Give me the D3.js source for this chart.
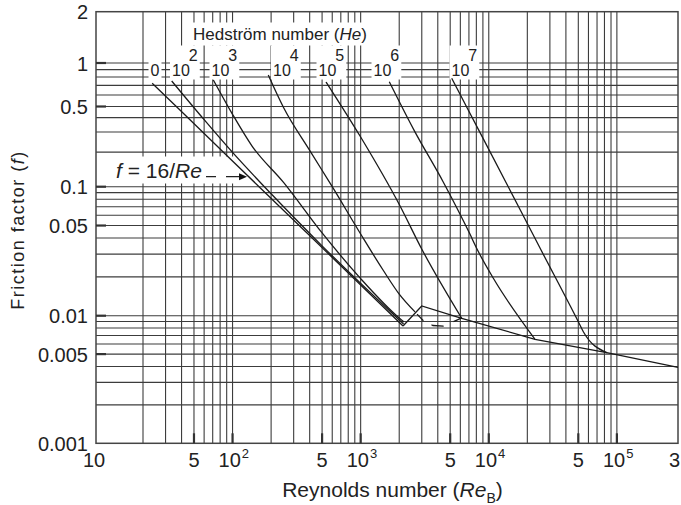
<!DOCTYPE html>
<html>
<head>
<meta charset="utf-8">
<script src="https://cdn.jsdelivr.net/npm/d3@7"></script>
<style>
body { margin: 0; background: #fff; }
svg { display: block; font-family: "Liberation Sans", Arial, Helvetica, sans-serif; }
</style>
</head>
<body>
<script>
// curves: Reynolds number / friction factor
const he0Re = [23.6, 36.4, 161, 1770, 2142];
const he0F = [0.724, 0.5, 0.1, 0.01, 0.0083];
const he2Re = [33.5, 60, 100, 200, 500, 2162];
const he2F = [0.751, 0.384, 0.199, 0.0881, 0.0348, 0.00861];
const he3Re = [70.8, 100, 142, 250, 500, 1000, 2000, 2181];
const he3F = [0.763, 0.427, 0.226, 0.109, 0.0438, 0.0194, 0.0096, 0.00893];
const he4Re = [190, 250, 400, 600, 1000, 1500, 2000, 2656];
const he4F = [0.826, 0.49, 0.207, 0.1, 0.043, 0.0225, 0.0147, 0.0107];
const he4TailRe = [2656, 3084, 3670, 4419, 5287, 6151];
const he4TailF = [0.0107, 0.00914, 0.00838, 0.0083, 0.00897, 0.0096];
const he5Re = [537, 1000, 1993, 2996, 6151];
const he5F = [0.739, 0.271, 0.0734, 0.0329, 0.00954];
const he6Re = [1673, 2647, 4411, 7065, 8170, 10857, 22970];
const he6F = [0.742, 0.302, 0.11, 0.0437, 0.0323, 0.0195, 0.00653];
const he7Re = [5138, 6692, 14190, 25590, 50010, 54730, 83350];
const he7F = [0.784, 0.5, 0.1, 0.0323, 0.00897, 0.00749, 0.00513];
const turbRe = [2142, 2996, 6151, 22970, 83350, 300000];
const turbF = [0.0083, 0.0119, 0.00954, 0.00653, 0.00513, 0.00394];

// labels
const heBase = ['0', '10', '10', '10', '10', '10', '10'];
const heSup = ['', '2', '3', '4', '5', '6', '7'];
const heLabelX = [150.5, 172, 211.5, 273, 318.5, 373.5, 451.5];

const xLabelVals = [10, 50, 100, 500, 1e3, 5e3, 1e4, 5e4, 1e5, 3e5];
const xLabelBase = ['10', '5', '10', '5', '10', '5', '10', '5', '10', '3'];
const xLabelSup = ['', '', '2', '', '3', '', '4', '', '5', ''];
const xMajor = [50, 100, 500, 1e3, 5e3, 1e4, 5e4, 1e5];

const yLabelVals = [2, 1, 0.5, 0.1, 0.05, 0.01, 0.005, 0.001];
const yLabelText = ['2', '1', '0.5', '0.1', '0.05', '0.01', '0.005', '0.001'];
const yMajor = [1, 0.5, 0.1, 0.05, 0.01, 0.005];

const arrowRe = 129.7, arrowF = 0.1222;

const W = 681, H = 505;
const svg = d3.select('body').append('svg').attr('width', W).attr('height', H);

// the scanned grid is a little uneven, so the scales are piecewise
const x = d3.scaleLog().domain([10, 20, 3e5]).range([96, 143, 678]);
const y = d3.scaleLog()
  .domain([0.001, 0.01, 0.1, 0.5, 1, 2])
  .range([443.3, 315.7, 186.7, 106.5, 63, 11.7]);

const x0 = x(10), x1 = x(3e5), y0 = y(0.001), y1 = y(2);

const gGrid = svg.append('g').attr('stroke', '#3c3c3c').attr('stroke-width', 1.1);
const gBox = svg.append('g').attr('fill', '#fff');
const gFrame = svg.append('g');
const gCurve = svg.append('g').attr('fill', 'none').attr('stroke', '#1a1a1a').attr('stroke-width', 1.3);
const gLab = svg.append('g').attr('fill', '#222');

// grid
const xGrid = x.ticks().filter(d => d > 10.5 && d < 1.01e5);
const yGrid = y.ticks().filter(d => d > 0.00101 && d < 1.01);

gGrid.selectAll('line.v').data(xGrid).join('line')
  .attr('class', 'v')
  .attr('x1', d => x(d)).attr('x2', d => x(d))
  .attr('y1', y1).attr('y2', y0);

gGrid.selectAll('line.h').data(yGrid).join('line')
  .attr('class', 'h')
  .attr('x1', x0).attr('x2', x1)
  .attr('y1', d => y(d)).attr('y2', d => y(d));

// frame and heavier ticks
gFrame.append('rect')
  .attr('x', x0).attr('y', y1)
  .attr('width', x1 - x0).attr('height', y0 - y1)
  .attr('fill', 'none').attr('stroke', '#444').attr('stroke-width', 1.5);

gFrame.selectAll('line.yt').data(yMajor).join('line')
  .attr('x1', x0).attr('x2', x0 + 10)
  .attr('y1', d => y(d)).attr('y2', d => y(d))
  .attr('stroke', '#333').attr('stroke-width', 2.2);

gFrame.selectAll('line.xt').data(xMajor).join('line')
  .attr('x1', d => x(d)).attr('x2', d => x(d))
  .attr('y1', y0).attr('y2', y0 - 10)
  .attr('stroke', '#333').attr('stroke-width', 2.2);

// curves
const smooth = d3.line().x(d => x(d[0])).y(d => y(d[1])).curve(d3.curveMonotoneX);
const straight = d3.line().x(d => x(d[0])).y(d => y(d[1]));
const heSeries = [
  [he0Re, he0F], [he2Re, he2F], [he3Re, he3F], [he4Re, he4F],
  [he5Re, he5F], [he6Re, he6F], [he7Re, he7F]
];
heSeries.forEach(([re, f]) => {
  gCurve.append('path').attr('d', smooth(d3.zip(re, f)));
});
gCurve.append('path').attr('d', straight(d3.zip(turbRe, turbF)));
gCurve.append('path')
  .attr('d', straight(d3.zip(he4TailRe, he4TailF)))
  .attr('stroke-dasharray', '0 3 9.2 9 12.3 10.9 10');

// helper: white patch behind a text
function boxBehind(sel, px, py) {
  const b = sel.node().getBBox();
  gBox.append('rect')
    .attr('x', b.x - px).attr('y', b.y - py)
    .attr('width', b.width + 2 * px).attr('height', b.height + 2 * py);
}

// y tick labels
gLab.selectAll('text.yl').data(yLabelVals).join('text')
  .attr('x', x0 - 8).attr('y', d => y(d) + 7.5)
  .attr('text-anchor', 'end').attr('font-size', 20)
  .text((d, i) => yLabelText[i]);

// x tick labels
xLabelVals.forEach((v, i) => {
  const t = gLab.append('text').attr('y', 467).attr('font-size', 20);
  if (xLabelSup[i]) {
    t.attr('x', x(v) - 14).attr('text-anchor', 'start');
    t.append('tspan').text(xLabelBase[i]);
    t.append('tspan').attr('font-size', 13).attr('dy', -9).attr('dx', 1).text(xLabelSup[i]);
  } else if (v === 3e5) {
    t.attr('x', W - 1).attr('text-anchor', 'end').text(xLabelBase[i]);
  } else {
    t.attr('x', v === 10 ? x(v) - 2 : x(v)).attr('text-anchor', 'middle').text(xLabelBase[i]);
  }
});

// axis titles
const xt = gLab.append('text')
  .attr('x', 392.5).attr('y', 497).attr('text-anchor', 'middle').attr('font-size', 21);
xt.append('tspan').text('Reynolds number (');
xt.append('tspan').attr('font-style', 'italic').text('Re');
xt.append('tspan').attr('font-size', 14).attr('dy', 6).text('B');
xt.append('tspan').attr('dy', -6).text(')');

const yt = gLab.append('text')
  .attr('transform', 'translate(23.5,230) rotate(-90)')
  .attr('text-anchor', 'middle').attr('font-size', 18).attr('letter-spacing', 1.5);
yt.append('tspan').text('Friction factor (');
yt.append('tspan').attr('font-style', 'italic').text('f');
yt.append('tspan').text(')');

// Hedström title
const ht = gLab.append('text').attr('x', 193).attr('y', 39.5).attr('font-size', 17);
ht.append('tspan').text('Hedström number (');
ht.append('tspan').attr('font-style', 'italic').text('He');
ht.append('tspan').text(')');
boxBehind(ht, 6, 2);

// He labels
heBase.forEach((b, i) => {
  const t = gLab.append('text').attr('x', heLabelX[i]).attr('y', 75.5).attr('font-size', 16);
  t.append('tspan').text(b);
  if (heSup[i]) t.append('tspan').attr('dy', -15).attr('dx', -1).text(heSup[i]);
  boxBehind(t, 2, 1);
});

// f = 16/Re annotation with dashed arrow
const tipX = x(arrowRe), tipY = y(arrowF);
const ft = gLab.append('text').attr('x', 116).attr('y', 177.5).attr('font-size', 21);
ft.append('tspan').attr('font-style', 'italic').text('f');
ft.append('tspan').text(' = 16/');
ft.append('tspan').attr('font-style', 'italic').text('Re');
{
  const b = ft.node().getBBox();
  gBox.append('rect')
    .attr('x', b.x - 5).attr('y', b.y - 2)
    .attr('width', tipX - 3 - (b.x - 5)).attr('height', b.height + 4);
}
gLab.append('line')
  .attr('x1', tipX - 41).attr('x2', tipX - 6)
  .attr('y1', tipY).attr('y2', tipY)
  .attr('stroke', '#222').attr('stroke-width', 1.3)
  .attr('stroke-dasharray', '10 10 15');
gLab.append('path')
  .attr('d', `M${tipX},${tipY}L${tipX - 8},${tipY - 3.5}L${tipX - 8},${tipY + 3.5}Z`)
  .attr('fill', '#111');
</script>
</body>
</html>
